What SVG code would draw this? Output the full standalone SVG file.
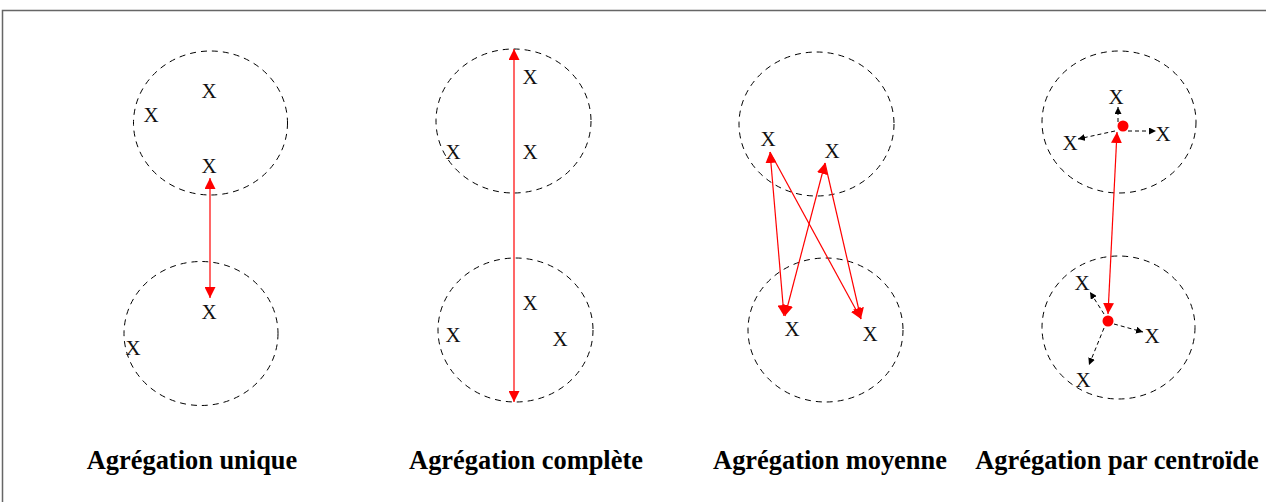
<svg xmlns="http://www.w3.org/2000/svg" width="1266" height="502" viewBox="0 0 1266 502">
<style>
.c{fill:none;stroke:#000;stroke-width:1;stroke-dasharray:6,5}
.x{font-family:"Liberation Serif",serif;font-size:21px;fill:#111;text-anchor:middle}
.t{font-family:"Liberation Serif",serif;font-size:26.4px;font-weight:bold;fill:#000;text-anchor:middle}
.r{stroke:#f00;stroke-width:1.2;fill:none;marker-end:url(#ra)}
.rr{stroke:#f00;stroke-width:1.2;fill:none;marker-start:url(#rs);marker-end:url(#ra)}
.b{stroke:#000;stroke-width:1;stroke-dasharray:4,3;fill:none;marker-end:url(#ba)}
</style>
<defs>
<marker id="ra" viewBox="0 0 10 10" refX="10" refY="5" markerWidth="11" markerHeight="11" markerUnits="userSpaceOnUse" orient="auto"><path d="M0,0 L10,5 L0,10 z" fill="#f00"/></marker>
<marker id="rs" viewBox="0 0 10 10" refX="0" refY="5" markerWidth="11" markerHeight="11" markerUnits="userSpaceOnUse" orient="auto"><path d="M10,0 L0,5 L10,10 z" fill="#f00"/></marker>
<marker id="ba" viewBox="0 0 10 10" refX="10" refY="5" markerWidth="7" markerHeight="7" markerUnits="userSpaceOnUse" orient="auto"><path d="M0,0 L10,5 L0,10 z" fill="#000"/></marker>
</defs>
<rect x="2.5" y="10.5" width="1280" height="520" fill="#fff" stroke="#666" stroke-width="1.5"/>

<g id="panel1">
<ellipse class="c" cx="210.5" cy="123" rx="77" ry="72"/>
<ellipse class="c" cx="201" cy="333.5" rx="77" ry="72"/>
<text class="x" x="209" y="98">X</text>
<text class="x" x="151" y="122">X</text>
<text class="x" x="209" y="173">X</text>
<text class="x" x="209" y="319">X</text>
<text class="x" x="133" y="355">X</text>
<text class="t" x="192" y="469">Agrégation unique</text>
</g>

<g id="panel2">
<ellipse class="c" cx="513.5" cy="121" rx="77.5" ry="72"/>
<ellipse class="c" cx="515.5" cy="330" rx="77.5" ry="72"/>
<text class="x" x="530" y="84">X</text>
<text class="x" x="453" y="159">X</text>
<text class="x" x="530" y="159">X</text>
<text class="x" x="530" y="310">X</text>
<text class="x" x="453" y="342">X</text>
<text class="x" x="560" y="346">X</text>
<text class="t" x="526" y="469">Agrégation complète</text>
</g>

<g id="panel3">
<ellipse class="c" cx="816.5" cy="124" rx="77.5" ry="72"/>
<ellipse class="c" cx="825.5" cy="330" rx="77.5" ry="72"/>
<text class="x" x="768" y="146">X</text>
<text class="x" x="832" y="158">X</text>
<text class="x" x="792" y="336">X</text>
<text class="x" x="870" y="341">X</text>
<text class="t" x="830" y="469">Agrégation moyenne</text>
</g>

<g id="panel4">
<ellipse class="c" cx="1119" cy="122" rx="77" ry="71"/>
<ellipse class="c" cx="1118.5" cy="327.5" rx="76.5" ry="71.5"/>
<text class="x" x="1116" y="104">X</text>
<text class="x" x="1070" y="150">X</text>
<text class="x" x="1163" y="141">X</text>
<text class="x" x="1082" y="290">X</text>
<text class="x" x="1152" y="343">X</text>
<text class="x" x="1083" y="387">X</text>
<circle cx="1123" cy="126" r="5.5" fill="#f00"/>
<circle cx="1108" cy="321" r="5.5" fill="#f00"/>
<text class="t" x="1117" y="469">Agrégation par centroïde</text>
</g>

<g id="connectors">
<line class="rr" x1="210" y1="178" x2="210" y2="298"/>
<line class="rr" x1="514" y1="49" x2="514" y2="402"/>
<line class="rr" x1="770" y1="152" x2="784" y2="316"/>
<line class="rr" x1="825" y1="163" x2="785" y2="316"/>
<line class="r" x1="770" y1="152" x2="861" y2="319"/>
<line class="r" x1="825" y1="163" x2="861" y2="319"/>
<line class="rr" x1="1117" y1="132" x2="1108" y2="314"/>
<line class="b" x1="1118" y1="122" x2="1118" y2="107"/>
<line class="b" x1="1115" y1="131" x2="1078" y2="139"/>
<line class="b" x1="1128" y1="131" x2="1156" y2="131"/>
<line class="b" x1="1104" y1="314" x2="1090" y2="292"/>
<line class="b" x1="1114" y1="324" x2="1143" y2="332"/>
<line class="b" x1="1104" y1="328" x2="1089" y2="365"/>
</g>
</svg>
